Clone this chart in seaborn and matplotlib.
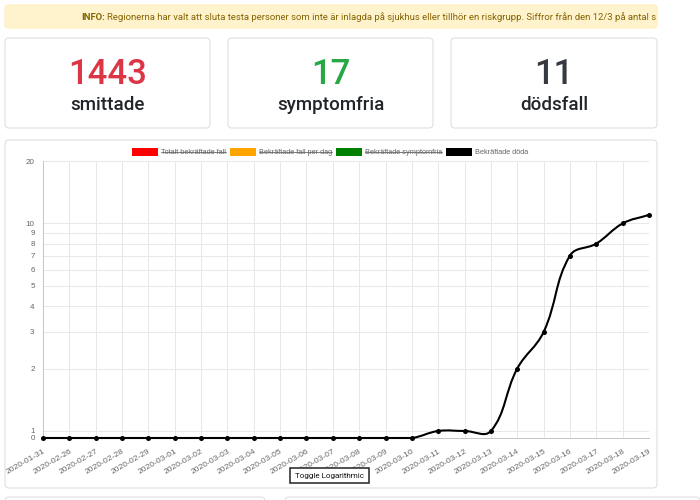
import numpy as np
import matplotlib
matplotlib.use("Agg")
import matplotlib.pyplot as plt
from matplotlib.path import Path
from matplotlib.patches import PathPatch, Rectangle, FancyBboxPatch
from matplotlib.transforms import Affine2D, Bbox, TransformedBbox
import seaborn as sns

# data
dates = ["2020-01-31", "2020-02-26", "2020-02-27", "2020-02-28", "2020-02-29",
         "2020-03-01", "2020-03-02", "2020-03-03", "2020-03-04", "2020-03-05",
         "2020-03-06", "2020-03-07", "2020-03-08", "2020-03-09", "2020-03-10",
         "2020-03-11", "2020-03-12", "2020-03-13", "2020-03-14", "2020-03-15",
         "2020-03-16", "2020-03-17", "2020-03-18", "2020-03-19"]
deaths = [0, 0, 0, 0, 0, 0, 0, 0, 0, 0, 0, 0, 0, 0, 0,
          1, 1, 1, 2, 3, 7, 8, 10, 11]

legend_labels = ["Totalt bekräftade fall", "Bekräftade fall per dag",
                 "Bekräftade symptomfria", "Bekräftade döda"]
legend_colors = ["#ff0000", "#ffa500", "#008000", "#000000"]
legend_hidden = [True, True, True, False]

card_values = ["1443", "17", "11"]
card_labels = ["smittade", "symptomfria", "dödsfall"]
card_colors = ["#dc3545", "#28a745", "#343a40"]

ytick_values = [0, 1, 2, 3, 4, 5, 6, 7, 8, 9, 10, 20]

info_bold = "INFO:"
info_text = ("Regionerna har valt att sluta testa personer som inte är inlagda på "
             "sjukhus eller tillhör en riskgrupp. Siffror från den 12/3 på antal smittade")

sns.set_theme(style="whitegrid")
plt.rcParams['font.family'] = ['Liberation Sans', 'DejaVu Sans']
UI_FONT = ['Roboto', 'DejaVu Sans']

W, H = 700, 500
fig = plt.figure(figsize=(7, 5), dpi=100)
fig.patch.set_facecolor("white")
# screenshot pixel coordinates (y down)
px = Affine2D().scale(1 / W, -1 / H).translate(0, 1) + fig.transFigure
renderer = fig.canvas.get_renderer()


def card(x0, y0, x1, y1):
    p = FancyBboxPatch((x0, y0), x1 - x0, y1 - y0,
                       boxstyle="round,pad=0,rounding_size=4",
                       transform=px, facecolor="white", edgecolor="#dfdfdf",
                       lw=0.8, zorder=-2)
    fig.patches.append(p)
    return p


# info banner
banner = FancyBboxPatch((5, 5), 652, 23, boxstyle="round,pad=0,rounding_size=3",
                        transform=px, facecolor="#fff3cd", edgecolor="#ffeeba",
                        lw=0.8, zorder=-2)
fig.patches.append(banner)
tb = fig.text(81, 17, info_bold, transform=px, fontsize=6.8, fontweight="bold",
              color="#856404", va="center", ha="left", family=UI_FONT)
wb = tb.get_window_extent(renderer).width
tr = fig.text(81 + wb + 2.5, 17, info_text, transform=px, fontsize=6.8,
              color="#856404", va="center", ha="left", family=UI_FONT)
tr.set_clip_on(True)
tr.set_clip_box(TransformedBbox(Bbox([[5, 5], [656, 28]]), px))

# stat cards
card_x = [(5, 210), (228, 433), (451, 657)]
for (x0, x1), val, lab, col in zip(card_x, card_values, card_labels, card_colors):
    card(x0, 38, x1, 128)
    cx = (x0 + x1) / 2
    fig.text(cx, 84, val, transform=px, fontsize=25, color=col, fontweight=500,
             ha="center", va="baseline", family=UI_FONT)
    fig.text(cx, 110, lab, transform=px, fontsize=13.5, color="#212529",
             fontweight=500, ha="center", va="baseline", family=UI_FONT)

# chart card and partially visible cards below
card(5, 140, 657, 488)
card(5, 497, 265, 520)
card(285, 497, 700, 520)

# legend (centered row, hidden series struck through)
texts, widths = [], []
for lab in legend_labels:
    t = fig.text(0, 152, lab, transform=px, fontsize=5.3, color="#666666",
                 ha="left", va="center")
    texts.append(t)
    widths.append(t.get_window_extent(renderer).width)
box_w, gap_in, gap_out = 26, 3, 4
total = sum(box_w + gap_in + w for w in widths) + gap_out * (len(widths) - 1)
x = 330 - total / 2
for t, w, col, hid in zip(texts, widths, legend_colors, legend_hidden):
    fig.patches.append(Rectangle((x, 148), box_w, 8, transform=px,
                                 facecolor=col, edgecolor="none"))
    tx = x + box_w + gap_in
    t.set_x(tx)
    if hid:
        fig.lines.append(plt.Line2D([tx, tx + w], [152.3, 152.3], transform=px,
                                    color="#666666", lw=0.6))
    x = tx + w + gap_out

# chart axes
ax = fig.add_axes([43 / W, 1 - 438 / H, 606 / W, 277 / H])
ax.set_facecolor("none")

K = 7 / 207.5  # where Chart.js puts 0 below 1 on its log scale (in decades)


def fwd(v):
    v = np.asarray(v, dtype=float)
    return np.where(v >= 1, np.log10(np.maximum(v, 1)), (v - 1) * K)


def inv(u):
    u = np.asarray(u, dtype=float)
    return np.where(u >= 0, 10 ** np.clip(u, 0, 50), 1 + u / K)


ax.set_yscale("function", functions=(fwd, inv))
ax.set_ylim(0, 20)
ax.set_xlim(0, len(dates) - 1)

# Chart.js style bezier line (tension 0.4), control points built in pixel space
xpos = np.arange(len(deaths), dtype=float)
sx, sy = 606 / (len(dates) - 1), 277 / (np.log10(20) + K)
pts = np.column_stack([xpos * sx, fwd(deaths) * sy])
n = len(pts)
cp_prev, cp_next = pts.copy(), pts.copy()
for i in range(n):
    p0, p1, p2 = pts[max(i - 1, 0)], pts[i], pts[min(i + 1, n - 1)]
    d01, d12 = np.hypot(*(p1 - p0)), np.hypot(*(p2 - p1))
    s = d01 + d12
    s01 = d01 / s if s else 0
    s12 = d12 / s if s else 0
    cp_prev[i] = p1 - 0.4 * s01 * (p2 - p0)
    cp_next[i] = p1 + 0.4 * s12 * (p2 - p0)
lo, hi = fwd(0) * sy, fwd(20) * sy
for cp in (cp_prev, cp_next):
    cp[:, 1] = np.clip(cp[:, 1], lo, hi)
    cp[:, 0] = np.clip(cp[:, 0], 0, pts[-1, 0])


def to_data(p):
    return [p[0] / sx, float(inv(p[1] / sy))]


verts, codes = [to_data(pts[0])], [Path.MOVETO]
for i in range(n - 1):
    verts += [to_data(cp_next[i]), to_data(cp_prev[i + 1]), to_data(pts[i + 1])]
    codes += [Path.CURVE4] * 3
ax.add_patch(PathPatch(Path(verts, codes), facecolor="none", edgecolor="black",
                       lw=1.5, zorder=3, clip_on=False))
sns.scatterplot(x=xpos, y=deaths, color="black", s=13, linewidth=0, ax=ax,
                zorder=4, clip_on=False)

ax.set_yticks(ytick_values)
ax.set_yticklabels([str(v) for v in ytick_values])
ax.set_xticks(xpos)
ax.set_xticklabels(dates, rotation=30, ha="right", va="top", rotation_mode="anchor")
ax.minorticks_off()
ax.grid(True, color="#e8e8e8", lw=0.7)
ax.tick_params(axis="both", length=4, color="#e8e8e8", width=0.7,
               labelsize=5.8, labelcolor="#666666", pad=2)
ax.tick_params(axis="x", pad=3, labelsize=6.1)
for side in ("top", "right"):
    ax.spines[side].set_visible(False)
for side in ("left", "bottom"):
    ax.spines[side].set_color("#c4c4c4")
    ax.spines[side].set_linewidth(0.7)
ax.set_xlabel("")
ax.set_ylabel("")

# toggle button
fig.patches.append(Rectangle((290, 468), 79, 15, transform=px, facecolor="white",
                             edgecolor="#333333", lw=1.2))
fig.text(329.5, 476, "Toggle Logarithmic", transform=px, fontsize=5.8,
         color="#111111", ha="center", va="center", family=UI_FONT)

fig.savefig("out.png", dpi=100)
